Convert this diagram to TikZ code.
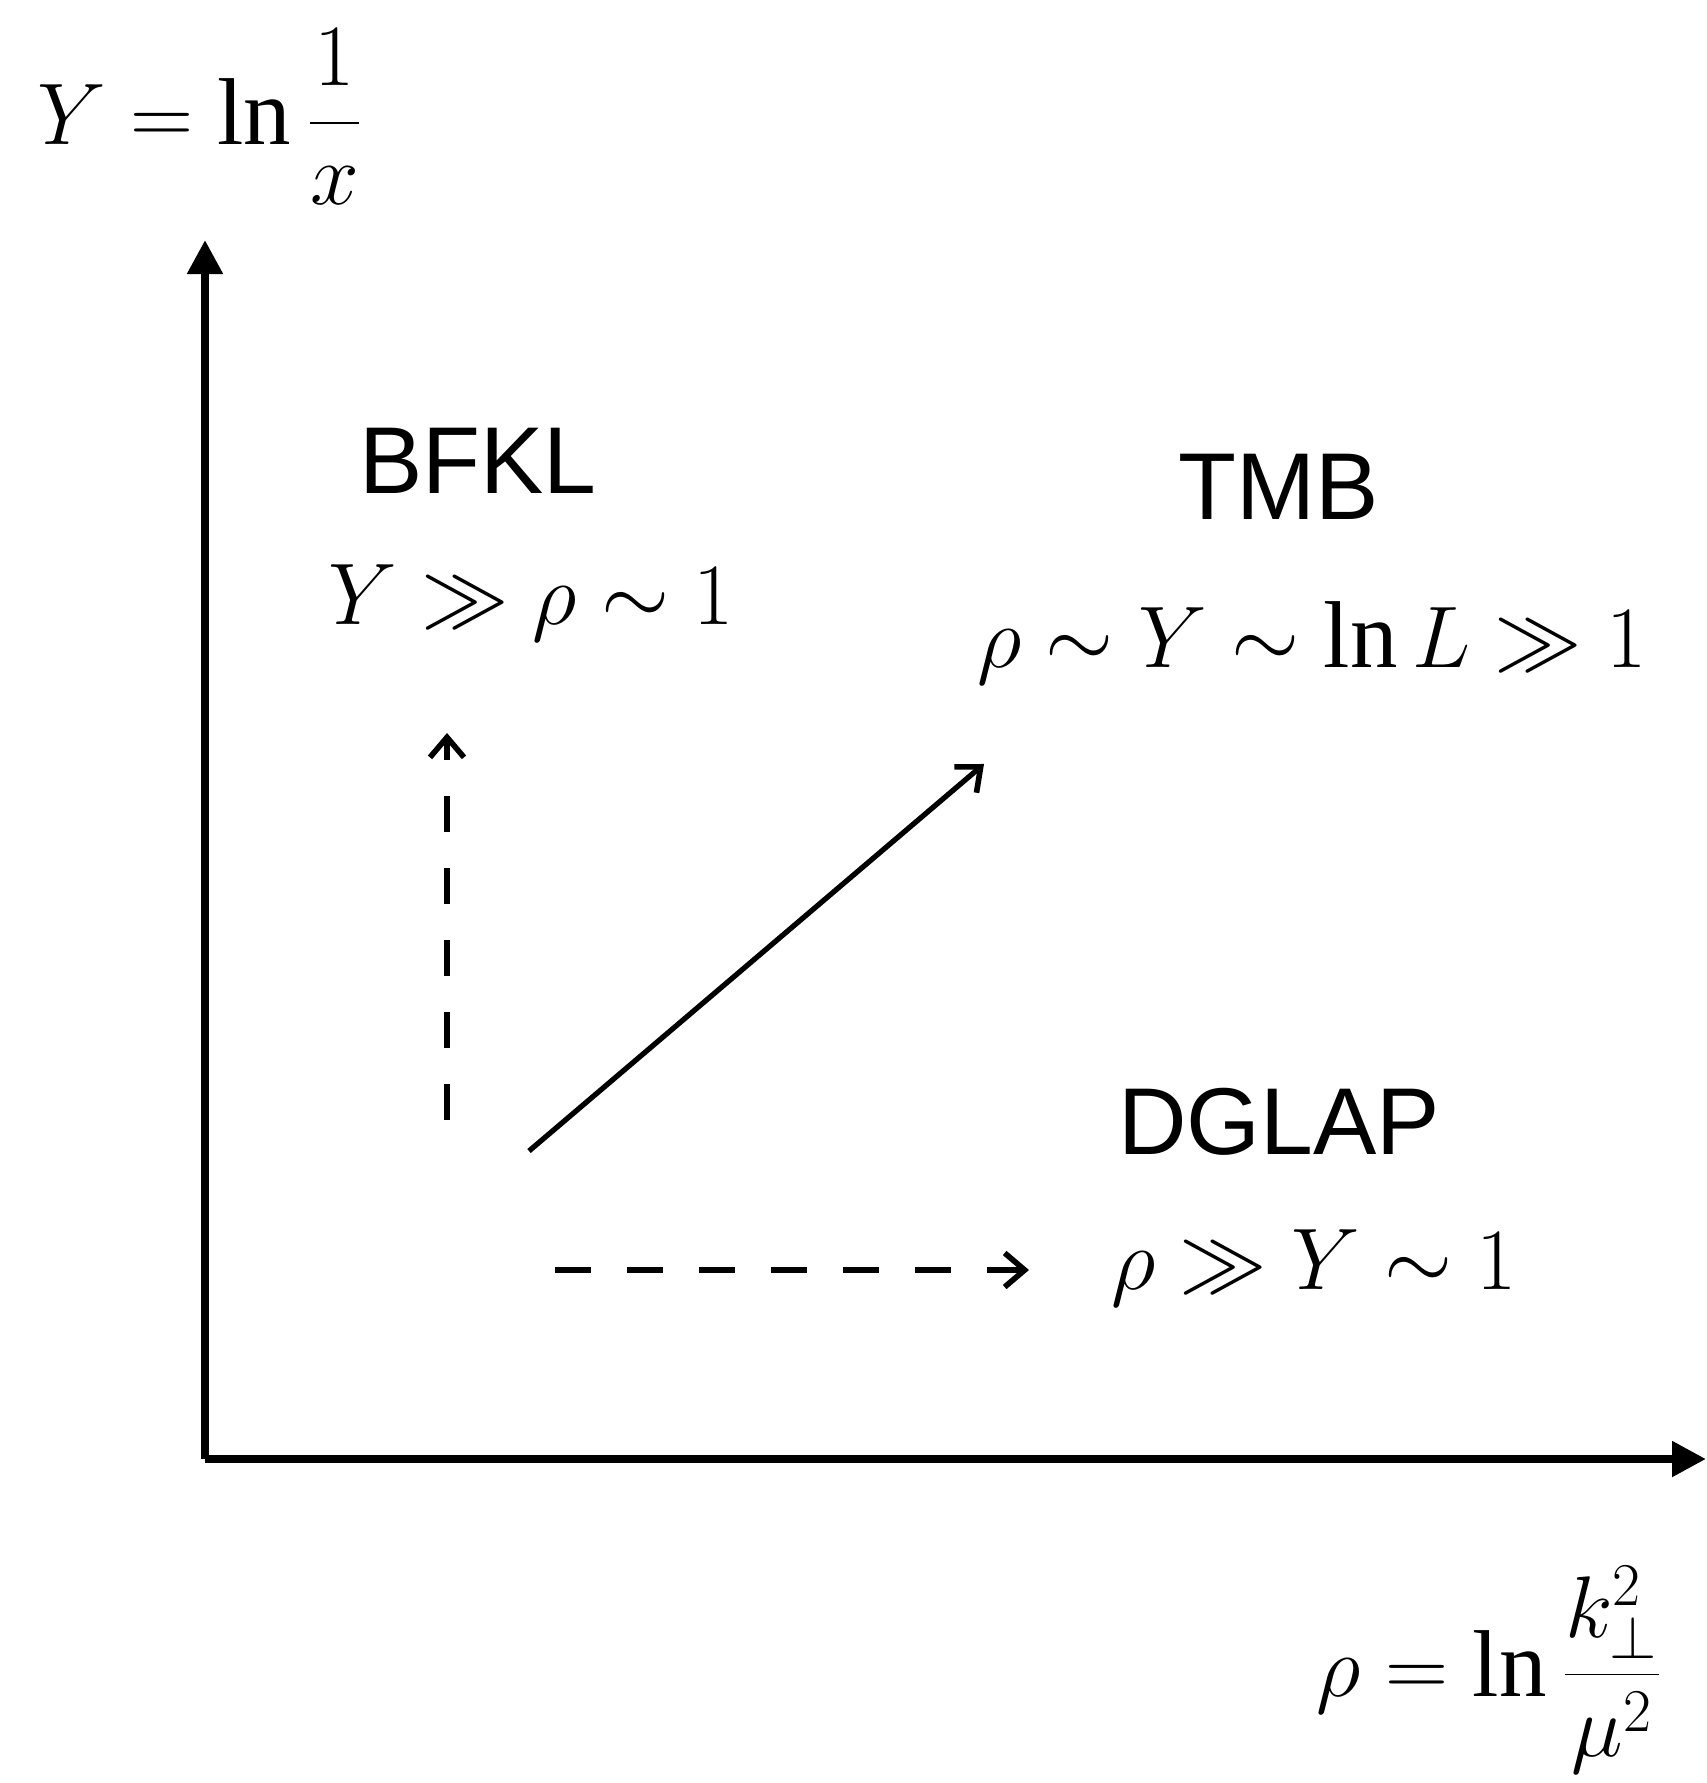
\documentclass[tikz,border=0pt]{standalone}
\usepackage{fontspec}
\setmainfont{Liberation Serif}
\setsansfont{Liberation Sans}
\usetikzlibrary{arrows.meta}

\begin{document}
\begin{tikzpicture}[
  x=0.01cm, y=-0.01cm,
  axis/.style={line width=2.3pt,-{Triangle[length=0.34cm,width=0.34cm]}},
  flow/.style={line width=1.5pt,-{Straight Barb[length=0.2cm,width=0.34cm,line width=1.6pt]}},
  dflow/.style={flow,dash pattern=on 0.36cm off 0.36cm},
  regime/.style={font=\fontsize{27}{32}\selectfont\sffamily,inner sep=0pt},
  cond/.style={font=\fontsize{27}{32}\selectfont,inner sep=0pt}
]
  \useasboundingbox (0,0) rectangle (1706,1783);
  % axes
  \coordinate (o) at (205,1459);
  \coordinate (ytip) at (205,240);
  \coordinate (xtip) at (1706,1459);
  \draw[axis] (o) -- (ytip);
  \draw[axis] (o) -- (xtip);
  \node[cond] (ylab) at (200,117) {$\displaystyle Y=\ln\frac{1}{x}$};
  \node[cond] (xlab) at (1490,1670) {$\displaystyle \rho=\ln\frac{k_\perp^2}{\mu^2}$};
  % regimes
  \node[regime] (bfkl) at (478,461) {BFKL};
  \node[cond] (bfklc) at (531,603) {$Y\gg\rho\sim1$};
  \node[regime] (tmb) at (1279,487) {TMB};
  \node[cond] (tmbc) at (1312,643) {$\rho\sim Y\sim\ln L\gg1$};
  \node[regime] (dglap) at (1279,1122) {DGLAP};
  \node[cond] (dglapc) at (1314,1268) {$\rho\gg Y\sim1$};
  % evolution directions
  \coordinate (vs) at (447,1120);
  \coordinate (ve) at (447,733);
  \coordinate (ds) at (529,1151);
  \coordinate (de) at (984,764);
  \coordinate (hs) at (555,1270);
  \coordinate (he) at (1029,1270);
  \draw[dflow] (vs) -- (ve);
  \draw[flow] (ds) -- (de);
  \draw[dflow] (hs) -- (he);
\end{tikzpicture}
\end{document}
